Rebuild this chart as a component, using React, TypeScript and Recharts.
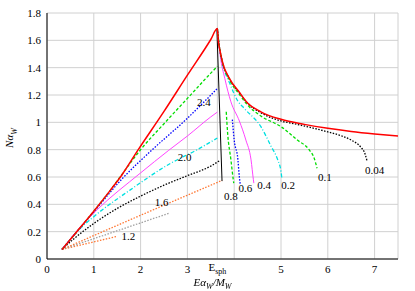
import React from "react";
import {
  CartesianGrid,
  Line,
  LineChart,
  ReferenceDot,
  XAxis,
  YAxis,
} from "recharts";

// sphaleron energy on the x axis
const E_SPH = 3.64;

const X_TICKS = [0, 1, 2, 3, E_SPH, 4, 5, 6, 7];
const Y_TICKS = [0, 0.2, 0.4, 0.6, 0.8, 1, 1.2, 1.4, 1.6, 1.8];

// envelope (red, solid)
const envelope: [number, number][] = [
  [0.32, 0.07], [0.6, 0.185], [1.0, 0.35], [1.36, 0.506], [1.6, 0.615],
  [1.95, 0.8], [2.5, 1.08], [3.0, 1.345], [3.5, 1.606], [3.64, 1.686],
  [3.66, 1.6], [3.7, 1.52], [3.75, 1.44], [3.9, 1.32], [4.11, 1.22],
  [4.29, 1.14], [4.57, 1.077], [5.0, 1.022], [5.5, 0.985], [6.0, 0.956],
  [6.5, 0.933], [7.0, 0.915], [7.5, 0.9],
];

// left branches
const left24: [number, number][] = [
  [0.32, 0.07], [1.0, 0.35], [1.36, 0.506], [1.7, 0.665], [2.0, 0.8],
  [2.5, 0.99], [3.0, 1.175], [3.5, 1.36], [3.64, 1.41],
];
const left22: [number, number][] = [
  [0.32, 0.07], [1.0, 0.345], [1.6, 0.585], [2.25, 0.8],
  [3.0, 1.03], [3.43, 1.175], [3.64, 1.248],
];
const left20: [number, number][] = [
  [0.32, 0.07], [0.7, 0.23], [1.07, 0.36], [2.0, 0.63], [2.6, 0.795],
  [3.0, 0.9], [3.5, 1.04], [3.64, 1.075],
];
const left18: [number, number][] = [
  [0.32, 0.07], [0.64, 0.2], [1.0, 0.31], [1.78, 0.506], [2.64, 0.7],
  [3.21, 0.8], [3.64, 0.885],
];
const left17: [number, number][] = [
  [0.32, 0.07], [0.6, 0.155], [1.0, 0.26], [1.5, 0.37], [2.0, 0.46],
  [2.5, 0.54], [3.0, 0.61], [3.5, 0.68], [3.69, 0.72],
];
const left16: [number, number][] = [[0.32, 0.07], [2.0, 0.32], [3.74, 0.575]];
const left14: [number, number][] = [[0.32, 0.07], [2.62, 0.336]];
const left12: [number, number][] = [[0.32, 0.07], [1.49, 0.165]];

// sphaleron boundary (thin black)
const boundary: [number, number][] = [[3.63, 1.686], [3.74, 0.57]];

// right branches
const right08: [number, number][] = [
  [3.83, 1.077], [3.86, 0.92], [3.93, 0.725], [3.98, 0.58], [3.99, 0.555],
];
const right06: [number, number][] = [
  [3.96, 1.02], [4.0, 0.87], [4.08, 0.725], [4.11, 0.6], [4.13, 0.545],
];
const right04: [number, number][] = [
  [3.64, 1.686], [3.7, 1.49], [3.8, 1.32], [3.93, 1.15], [4.11, 1.01],
  [4.25, 0.87], [4.36, 0.725], [4.41, 0.58], [4.42, 0.555],
];
const right02: [number, number][] = [
  [3.64, 1.686], [3.68, 1.56], [3.75, 1.43], [3.9, 1.29], [4.07, 1.16],
  [4.22, 1.1], [4.57, 0.968], [4.78, 0.83], [4.93, 0.725], [5.0, 0.64],
  [5.02, 0.585],
];
const right01: [number, number][] = [
  [3.64, 1.686], [3.68, 1.56], [3.75, 1.44], [3.9, 1.31], [4.11, 1.205],
  [4.29, 1.125], [4.57, 1.046], [5.0, 0.968], [5.35, 0.87], [5.6, 0.8],
  [5.71, 0.737], [5.77, 0.664],
];
const right004: [number, number][] = [
  [3.64, 1.686], [3.68, 1.56], [3.75, 1.44], [3.9, 1.318], [4.11, 1.215],
  [4.29, 1.138], [4.57, 1.07], [5.0, 1.01], [5.28, 0.99], [5.6, 0.965],
  [6.0, 0.93], [6.3, 0.9], [6.5, 0.87], [6.7, 0.82], [6.8, 0.765],
  [6.84, 0.715],
];

const curveLabels = ["2.4", "2.0", "1.6", "1.2", "0.8", "0.6", "0.4", "0.2", "0.1", "0.04"];
const labelX = [3.35, 2.94, 2.45, 1.74, 3.93, 4.24, 4.64, 5.15, 5.94, 7.0];
const labelY = [1.15, 0.75, 0.42, 0.166, 0.46, 0.52, 0.54, 0.545, 0.6, 0.65];

const pts = (a: [number, number][]) => a.map(([x, y]) => ({ x, y }));

const FONT = "Liberation Serif";

const series = [
  { key: "left12", data: left12, color: "#ff7733", dash: "1.5 1.5", w: 1.3 },
  { key: "left14", data: left14, color: "#a0a0a0", dash: "1.5 1.5", w: 1.3 },
  { key: "left16", data: left16, color: "#ff7733", dash: "1.5 1.5", w: 1.3 },
  { key: "left17", data: left17, color: "#000000", dash: "1.5 1.5", w: 1.3 },
  { key: "left18", data: left18, color: "#00e0e0", dash: "4 2 1 2", w: 1.3 },
  { key: "left20", data: left20, color: "#ff44ff", dash: undefined, w: 1 },
  { key: "left22", data: left22, color: "#0000ff", dash: "1.5 1.5", w: 1.3 },
  { key: "left24", data: left24, color: "#00dd00", dash: "3 2", w: 1.3 },
  { key: "boundary", data: boundary, color: "#000000", dash: undefined, w: 1 },
  { key: "right08", data: right08, color: "#00dd00", dash: "3 2", w: 1.3 },
  { key: "right06", data: right06, color: "#0000ff", dash: "1.5 1.5", w: 1.3 },
  { key: "right04", data: right04, color: "#ff44ff", dash: undefined, w: 1 },
  { key: "right02", data: right02, color: "#00e0e0", dash: "4 2 1 2", w: 1.3 },
  { key: "right004", data: right004, color: "#000000", dash: "1.5 1.5", w: 1.3 },
  { key: "right01", data: right01, color: "#00dd00", dash: "3 2", w: 1.3 },
  { key: "envelope", data: envelope, color: "#ff0000", dash: undefined, w: 1.5 },
];

function XTick(props: any) {
  const { x, y, payload } = props;
  const v = payload.value;
  if (Math.abs(v - 4) < 1e-9) return null;
  if (Math.abs(v - E_SPH) < 1e-9) {
    return (
      <text x={x} y={y + 4} textAnchor="middle" fontFamily={FONT} fontSize={11} fill="#000">
        E<tspan fontSize={8} dy={3}>sph</tspan>
      </text>
    );
  }
  return (
    <text x={x} y={y + 6} textAnchor="middle" fontFamily={FONT} fontSize={11} fill="#000">
      {v}
    </text>
  );
}

function YTick(props: any) {
  const { x, y, payload } = props;
  return (
    <text x={x} y={y + 4} textAnchor="end" fontFamily={FONT} fontSize={11} fill="#000">
      {String(Math.round(payload.value * 10) / 10)}
    </text>
  );
}

const curveLabel = (t: string) => (p: any) => {
  const vb = p.viewBox || {};
  const cx = (vb.x || 0) + (vb.width || 0) / 2;
  const cy = (vb.y || 0) + (vb.height || 0) / 2;
  return (
    <text x={cx} y={cy + 4} textAnchor="middle" fontFamily={FONT} fontSize={11} fill="#000">
      {t}
    </text>
  );
};

export default function App() {
  return (
    <div style={{ position: "fixed", left: 0, top: 0, width: 415, height: 291, background: "#fff" }}>
      <LineChart
        width={415}
        height={291}
        margin={{ top: 13, right: 17, left: 7, bottom: 12 }}
        style={{ fontFamily: FONT }}
      >
        <CartesianGrid stroke="#d0d0d0" />
        <XAxis
          type="number"
          dataKey="x"
          domain={[0, 7.5]}
          ticks={X_TICKS}
          interval={0}
          allowDataOverflow
          tick={<XTick />}
          tickLine={false}
          height={20}
          axisLine={{ stroke: "#000" }}
        />
        <XAxis xAxisId="top" orientation="top" type="number" domain={[0, 7.5]} tick={false} tickLine={false} height={0} axisLine={{ stroke: "#000" }} />
        <YAxis
          type="number"
          domain={[0, 1.8]}
          ticks={Y_TICKS}
          interval={0}
          allowDataOverflow
          width={40}
          tickLine={false}
          tickSize={4}
          tickMargin={2}
          tick={<YTick />}
          axisLine={{ stroke: "#000" }}
        />
        <YAxis yAxisId="right" orientation="right" type="number" domain={[0, 1.8]} tick={false} tickLine={false} width={0} axisLine={{ stroke: "#000" }} />
        {series.map((s) => (
          <Line
            key={s.key}
            data={pts(s.data)}
            dataKey="y"
            type="monotone"
            stroke={s.color}
            strokeWidth={s.w}
            strokeDasharray={s.dash}
            dot={false}
            activeDot={false}
            isAnimationActive={false}
          />
        ))}
        {curveLabels.map((t, i) => (
          <ReferenceDot
            key={t}
            x={labelX[i]}
            y={labelY[i]}
            r={0}
            stroke="none"
            fill="none"
            label={curveLabel(t)}
          />
        ))}
      </LineChart>
      <div
        style={{
          position: "absolute",
          left: 0,
          width: 415,
          top: 276,
          textAlign: "center",
          paddingLeft: 10,
          boxSizing: "border-box",
          fontFamily: FONT,
          fontStyle: "italic",
          fontSize: 11,
          lineHeight: "12px",
        }}
      >
        Eα<sub style={{ fontSize: 8 }}>W</sub>/M<sub style={{ fontSize: 8 }}>W</sub>
      </div>
      <div
        style={{
          position: "absolute",
          left: 12,
          top: 138,
          transform: "translate(-50%, -50%) rotate(-90deg)",
          fontFamily: FONT,
          fontStyle: "italic",
          fontSize: 11,
          lineHeight: "12px",
          whiteSpace: "nowrap",
        }}
      >
        Nα<sub style={{ fontSize: 8 }}>W</sub>
      </div>
    </div>
  );
}
